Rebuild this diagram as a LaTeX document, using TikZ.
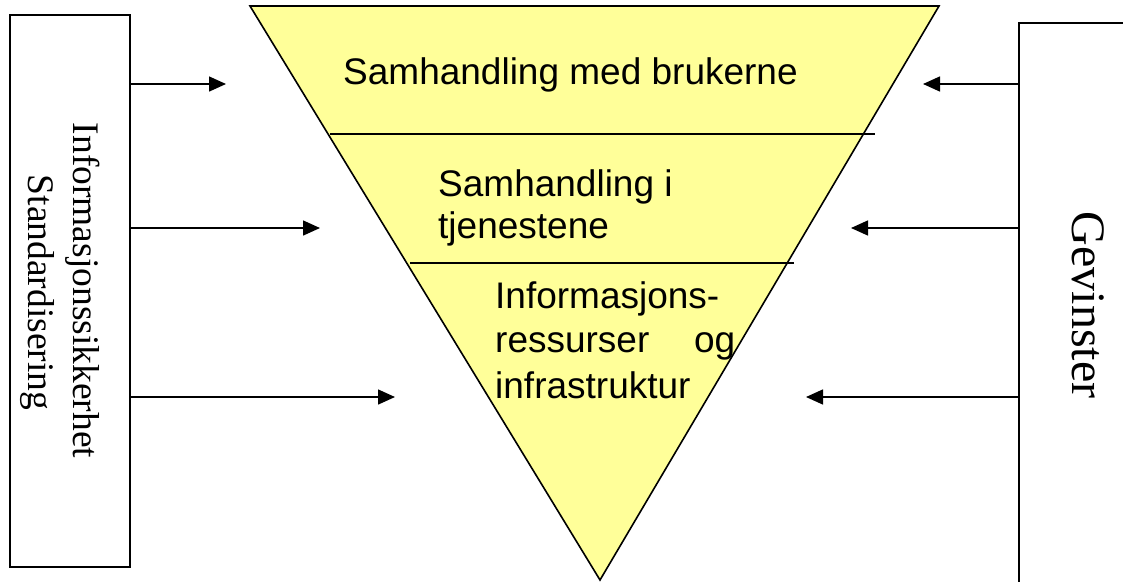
\documentclass[tikz,border=0pt]{standalone}
\usepackage{fontspec}
\setmainfont{Liberation Serif}
\newfontfamily\arialfont{Liberation Sans}
\usetikzlibrary{arrows.meta}
\definecolor{funnel}{RGB}{255,255,153}
\tikzset{
  outline/.style={draw=black, line width=1.6pt},
  arr/.style={line width=1.5pt, -{Triangle[length=17pt,width=15pt]}},
  divider/.style={line width=1.6pt},
  layertext/.style={anchor=base west, inner sep=0pt, font=\arialfont\fontsize{37}{42}\selectfont},
  sidetext/.style={anchor=base, inner sep=0pt, rotate=-90, font=\fontsize{37.5}{43}\selectfont},
}
\begin{document}
\begin{tikzpicture}[x=1pt, y=-1pt]
\useasboundingbox (0,0) rectangle (1123,581);
\clip (0,0) rectangle (1123,581);

% funnel
\coordinate (tl) at (250,6);
\coordinate (tr) at (939,6);
\coordinate (apex) at (600,580);
\fill[funnel] (tl) -- (tr) -- (apex) -- cycle;
\draw[divider] (330,134) -- (875,134);
\draw[divider] (410,263) -- (794,263);
\draw[outline, line join=miter] (tl) -- (tr) -- (apex) -- cycle;

% layer labels
\node[layertext] (t1) at (343,84) {Samhandling med brukerne};
\node[layertext] (t2a) at (438,196) {Samhandling i};
\node[layertext] (t2b) at (438,238) {tjenestene};
\node[layertext] (t3a) at (495,308) {Informasjons-};
\node[layertext] (t3b) at (495,352) {\makebox[240pt][s]{ressurser\hfill og}};
\node[layertext] (t3c) at (495,398) {infrastruktur};

% side boxes
\node[outline, minimum width=120pt, minimum height=552pt, inner sep=0pt] (lbox) at (70,291) {};
\node[outline, minimum width=140pt, minimum height=600pt, inner sep=0pt, anchor=north west] (rbox) at (1018,22) {};

\node[sidetext] (lt1) at (73,290.5) {Informasjonssikkerhet};
\node[sidetext] (lt2) at (28,292.5) {Standardisering};
\node[sidetext, font=\fontsize{48}{55}\selectfont] (rt) at (1072,305) {Gevinster};

% arrows into the funnel
\coordinate (la) at (226,84);
\coordinate (lb) at (320,228);
\coordinate (lc) at (395,397);
\coordinate (ra) at (923,84);
\coordinate (rb) at (851,228);
\coordinate (rc) at (806,397);
\draw[arr] (lbox.east |- la) -- (la);
\draw[arr] (lbox.east |- lb) -- (lb);
\draw[arr] (lbox.east |- lc) -- (lc);
\draw[arr] (rbox.west |- ra) -- (ra);
\draw[arr] (rbox.west |- rb) -- (rb);
\draw[arr] (rbox.west |- rc) -- (rc);
\end{tikzpicture}
\end{document}
